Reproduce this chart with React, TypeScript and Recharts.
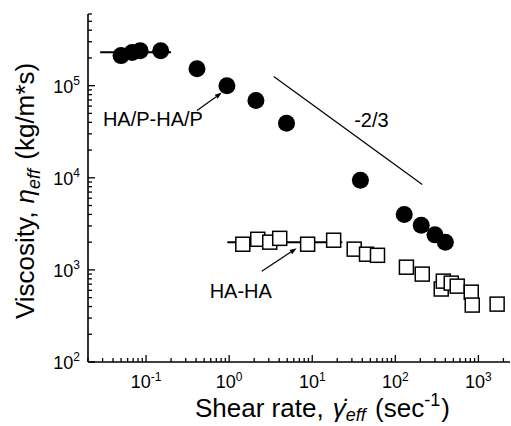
import { ScatterChart, Scatter, XAxis, YAxis, ReferenceLine, ReferenceDot } from "recharts";

const FONT = "'Liberation Sans', Arial, Helvetica, sans-serif";

// filled circles: HA/P-HA/P
const hapX = [0.05, 0.068, 0.085, 0.15, 0.41, 0.94, 2.1, 4.9, 38, 128, 205, 300, 400];
const hapY = [2.12e5, 2.29e5, 2.4e5, 2.4e5, 1.53e5, 1.0e5, 6.9e4, 3.9e4, 9.4e3, 4.0e3, 3.05e3, 2.4e3, 2.0e3];

// open squares: HA-HA
const hahaX = [1.46, 2.21, 3.08, 4.06, 8.8, 18.1, 32, 45, 61, 136, 211, 357, 378, 471, 556, 820, 843, 1680];
const hahaY = [1900, 2150, 2000, 2200, 1900, 2100, 1680, 1480, 1440, 1070, 900, 620, 755, 718, 666, 573, 415, 425];

// zero-shear plateau guides
const hapPlateauX = [0.028, 0.2];
const hapPlateauY = [2.3e5, 2.3e5];
const hahaPlateauX = [0.95, 23];
const hahaPlateauY = [2000, 2000];

// -2/3 slope guide
const slopeX = [3.44, 211];
const slopeY = [1.26e5, 8.47e3];

const xDomain = [0.02, 2400];
const yDomain = [100, 6e5];
const minorSteps = [1, 2, 3, 4, 5, 6, 7, 8, 9];

const zip = (xs: number[], ys: number[]) => xs.map((x, i) => ({ x, y: ys[i] }));

function logTicks(domain: number[]) {
  const out: number[] = [];
  const lo = Math.floor(Math.log10(domain[0]));
  const hi = Math.ceil(Math.log10(domain[1]));
  for (let d = lo; d <= hi; d++) {
    for (const m of minorSteps) {
      const v = m * Math.pow(10, d);
      if (v >= domain[0] * 0.9999 && v <= domain[1] * 1.0001) out.push(v);
    }
  }
  return out;
}

const isMajor = (v: number) => Math.abs(Math.log10(v) - Math.round(Math.log10(v))) < 1e-6;

const BottomTick = ({ x, y, payload }: any) => {
  const v = payload.value;
  const major = isMajor(v);
  const e = Math.round(Math.log10(v));
  return (
    <g>
      <line x1={x} x2={x} y1={y} y2={y - (major ? 7 : 4)} stroke="#000" strokeWidth={1.3} />
      {major && (
        <text x={x} y={y + 26} textAnchor="middle" fontFamily={FONT} fontSize={18} fill="#000">
          10<tspan dy={-7} fontSize={12}>{e}</tspan>
        </text>
      )}
    </g>
  );
};

const TopTick = ({ x, y, payload }: any) => {
  const major = isMajor(payload.value);
  return <line x1={x} x2={x} y1={y} y2={y + (major ? 7 : 4)} stroke="#000" strokeWidth={1.3} />;
};

const LeftTick = ({ x, y, payload }: any) => {
  const v = payload.value;
  const major = isMajor(v);
  const e = Math.round(Math.log10(v));
  return (
    <g>
      <line x1={x} x2={x + (major ? 7 : 4)} y1={y} y2={y} stroke="#000" strokeWidth={1.3} />
      {major && (
        <text x={x - 8} y={y + 7} textAnchor="end" fontFamily={FONT} fontSize={18} fill="#000">
          10<tspan dy={-8} fontSize={12}>{e}</tspan>
        </text>
      )}
    </g>
  );
};

const dot = (p: any) => <circle cx={p.cx} cy={p.cy} r={8.5} fill="#000" />;
const square = (p: any) => (
  <rect x={p.cx - 7} y={p.cy - 7} width={14} height={14} fill="#fff" stroke="#000" strokeWidth={1.5} />
);
const none = () => <g />;

const arrow = (p: any) => {
  const { x1, y1, x2, y2 } = p;
  const a = Math.atan2(y2 - y1, x2 - x1);
  const L = 7, W = 2.5;
  const bx = x2 - L * Math.cos(a), by = y2 - L * Math.sin(a);
  const px = -Math.sin(a) * W, py = Math.cos(a) * W;
  return (
    <g>
      <line x1={x1} y1={y1} x2={bx} y2={by} stroke="#000" strokeWidth={1.2} />
      <polygon points={`${x2},${y2} ${bx + px},${by + py} ${bx - px},${by - py}`} fill="#000" />
    </g>
  );
};

const note = (label: string) => (p: any) => (
  <text x={p.cx} y={p.cy + 7} textAnchor="middle" fontFamily={FONT} fontSize={20} fill="#000">
    {label}
  </text>
);

export default function App() {
  const xTicks = logTicks(xDomain);
  const yTicks = logTicks(yDomain);
  return (
    <div style={{ position: "absolute", left: 0, top: 0, background: "#fff" }}>
      <ScatterChart width={511} height={426} margin={{ top: 14, right: 1, bottom: 0, left: 0 }}>
        <XAxis
          type="number"
          dataKey="x"
          scale="log"
          domain={xDomain}
          allowDataOverflow
          ticks={xTicks}
          interval={0}
          height={64}
          tickSize={0}
          tickMargin={0}
          tickLine={false}
          axisLine={{ stroke: "#000", strokeWidth: 1.6 }}
          tick={<BottomTick />}
          label={{
            content: () => (
              <text x={195} y={417} fontFamily={FONT} fontSize={26} fill="#000">
                <tspan>Shear rate, </tspan>
                <tspan fontStyle="italic" dx={2}>γ̇</tspan>
                <tspan fontSize={18} fontStyle="italic" dy={4}>eff</tspan>
                <tspan dy={-4} dx={2}>{" (sec"}</tspan>
                <tspan fontSize={18} dy={-11}>-1</tspan>
                <tspan dy={11} dx={1}>)</tspan>
              </text>
            ),
          }}
        />
        <XAxis
          xAxisId="top"
          orientation="top"
          type="number"
          dataKey="x"
          scale="log"
          domain={xDomain}
          allowDataOverflow
          ticks={xTicks}
          interval={0}
          height={0}
          tickSize={0}
          tickMargin={0}
          tickLine={false}
          axisLine={{ stroke: "#000", strokeWidth: 1.6 }}
          tick={<TopTick />}
        />
        <YAxis
          type="number"
          dataKey="y"
          scale="log"
          domain={yDomain}
          allowDataOverflow
          ticks={yTicks}
          interval={0}
          width={88}
          tickSize={0}
          tickMargin={0}
          tickLine={false}
          axisLine={{ stroke: "#000", strokeWidth: 1.6 }}
          tick={<LeftTick />}
          label={{
            content: () => (
              <text
                x={34}
                y={191}
                transform="rotate(-90 34 191)"
                textAnchor="middle"
                fontFamily={FONT}
                fontSize={26}
                fill="#000"
              >
                <tspan>Viscosity, </tspan>
                <tspan fontStyle="italic" dx={1}>η</tspan>
                <tspan fontSize={18} fontStyle="italic" dy={6}>eff</tspan>
                <tspan dy={-6} dx={2}>{" (kg/m*s)"}</tspan>
              </text>
            ),
          }}
        />
        <Scatter data={zip(hapPlateauX, hapPlateauY)} line={{ stroke: "#000", strokeWidth: 2 }} shape={none} isAnimationActive={false} />
        <Scatter data={zip(hahaPlateauX, hahaPlateauY)} line={{ stroke: "#000", strokeWidth: 2 }} shape={none} isAnimationActive={false} />
        <Scatter data={zip(slopeX, slopeY)} line={{ stroke: "#000", strokeWidth: 1.2 }} shape={none} isAnimationActive={false} />
        <Scatter data={zip(hahaX, hahaY)} shape={square} isAnimationActive={false} />
        <Scatter data={zip(hapX, hapY)} shape={dot} isAnimationActive={false} />
        <ReferenceLine segment={[{ x: 0.41, y: 5.37e4 }, { x: 0.817, y: 8.41e4 }]} shape={arrow} />
        <ReferenceLine segment={[{ x: 2.47, y: 968 }, { x: 6.5, y: 1717 }]} shape={arrow} />
        <ReferenceDot x={0.121} y={4.4e4} r={0} shape={note("HA/P-HA/P")} />
        <ReferenceDot x={1.38} y={588} r={0} shape={note("HA-HA")} />
        <ReferenceDot x={51.6} y={4.19e4} r={0} shape={note("-2/3")} />
      </ScatterChart>
    </div>
  );
}
